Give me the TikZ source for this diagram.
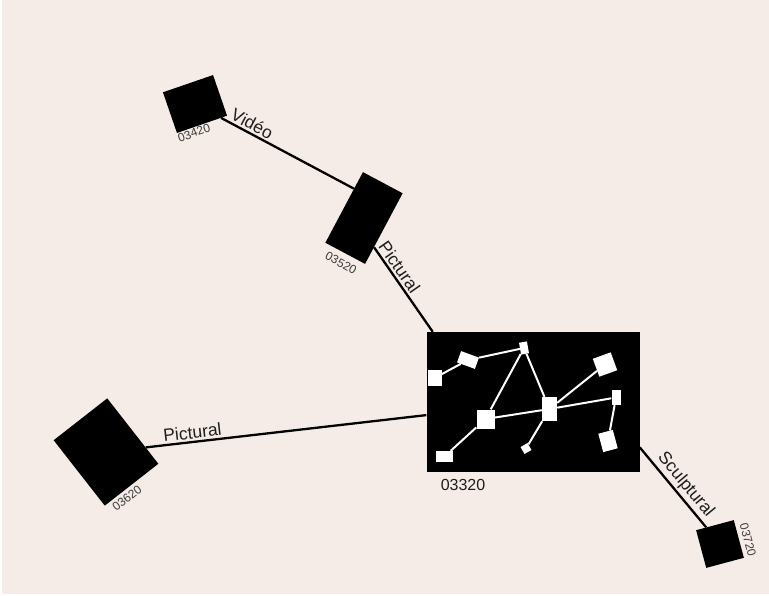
\documentclass[tikz,border=0pt]{standalone}
\usepackage{fontspec}
\setmainfont{Liberation Sans}
\definecolor{paper}{RGB}{246,236,231}
\definecolor{inkdark}{RGB}{30,30,30}
\definecolor{inkgrey}{RGB}{60,60,60}
\tikzset{
  blk/.style={fill=black, draw=none, inner sep=0pt, rectangle},
  wsq/.style={fill=white, draw=none, inner sep=0pt, rectangle},
  link/.style={draw=black, line width=2.3pt},
  innerlink/.style={draw=white, line width=2pt},
  linklabel/.style={sloped, above, text=inkdark, inner sep=2pt,
    font=\fontsize{17.5}{19}\selectfont},
  tag/.style={text=inkgrey, inner sep=0pt, font=\fontsize{12}{13}\selectfont},
}
\begin{document}
\begin{tikzpicture}[x=1pt,y=1pt]
  \useasboundingbox (0,0) rectangle (769,-595);
  \fill[white] (0,0) rectangle (769,-595);
  \fill[paper] (2,0) rectangle (769,-594);

  % outer boxes
  \node[blk, minimum width=53, minimum height=43, rotate=19] (n3420) at (195,-104) {};
  \node[blk, minimum width=45, minimum height=80, rotate=-28] (n3520) at (364,-218) {};
  \node[blk, minimum width=68, minimum height=83, rotate=38] (n3620) at (106,-452) {};
  \node[blk, minimum width=39, minimum height=39, rotate=15] (n3720) at (720,-544) {};
  \node[blk, minimum width=213, minimum height=140] (n3320) at (533,-402) {};

  % box tags
  \node[tag, rotate=19] (t3420) at (194,-133) {03420};
  \node[tag, rotate=-28] (t3520) at (341,-263) {03520};
  \node[tag, rotate=38] (t3620) at (127,-498) {03620};
  \node[tag, rotate=-75] (t3720) at (748,-540) {03720};
  \node[text=inkdark, inner sep=0pt, font=\fontsize{16}{18}\selectfont] (t3320) at (463,-484.5) {03320};

  % connectors between boxes
  \draw[link] (n3420) -- node[linklabel, pos=0.2] {Vidéo} (n3520.137);
  \draw[link] (n3520.-43) -- node[linklabel, pos=0.3] {Pictural} (n3320.145);
  \draw[link] (n3620) -- node[linklabel, pos=0.17] {Pictural} (n3320.187);
  \draw[link] (n3320.-23) -- node[linklabel, pos=0.56] {Sculptural} (n3720);

  % inner network of 03320
  \node[wsq, minimum width=14, minimum height=16] (a) at (434.5,-378) {};
  \node[wsq, minimum width=19, minimum height=12, rotate=-20] (b) at (468,-360) {};
  \node[wsq, minimum width=8, minimum height=12, rotate=10] (c) at (524,-348) {};
  \node[wsq, minimum width=18, minimum height=19] (d) at (485.5,-419) {};
  \node[wsq, minimum width=15, minimum height=24] (e) at (549.5,-409) {};
  \node[wsq, minimum width=19, minimum height=19, rotate=20] (f) at (605,-364.5) {};
  \node[wsq, minimum width=9, minimum height=15] (g) at (616,-397.5) {};
  \node[wsq, minimum width=15, minimum height=19, rotate=15] (h) at (608,-441) {};
  \node[wsq, minimum width=17, minimum height=11] (i) at (444.5,-456.5) {};
  \node[wsq, minimum width=8, minimum height=8, rotate=30] (j) at (526,-448.5) {};

  \draw[innerlink] (a) -- (b);
  \draw[innerlink] (b) -- (c);
  \draw[innerlink] (c) -- (d);
  \draw[innerlink] (c) -- (e);
  \draw[innerlink] (d) -- (i);
  \draw[innerlink] (d) -- (e);
  \draw[innerlink] (e) -- (g);
  \draw[innerlink] (e) -- (f);
  \draw[innerlink] (e) -- (j);
  \draw[innerlink] (g) -- (h);
\end{tikzpicture}
\end{document}
